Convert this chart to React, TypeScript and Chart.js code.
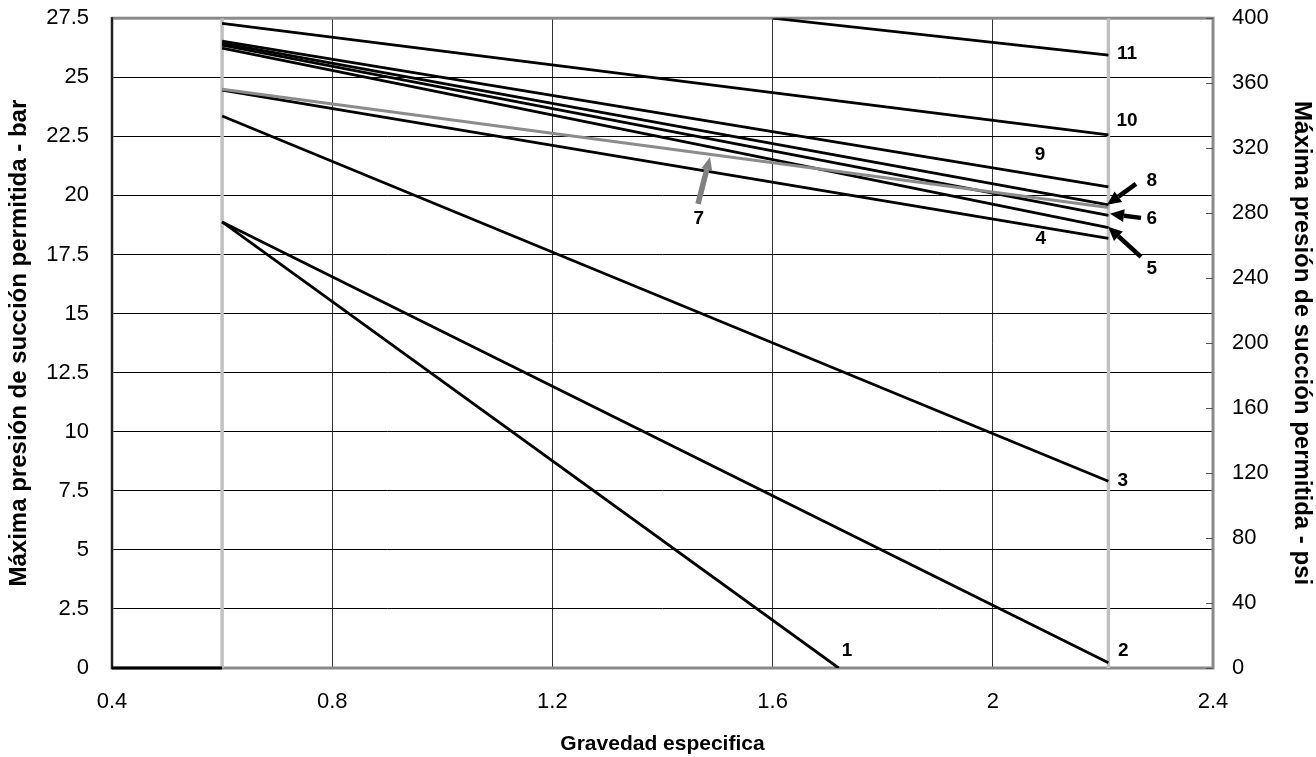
import React, { useEffect, useRef } from 'react';
import { Chart, registerables } from 'chart.js';

Chart.register(...registerables);

// ---- axis ticks ----
const xTickValues = [0.4, 0.8, 1.2, 1.6, 2, 2.4];
const barTickValues = [0, 2.5, 5, 7.5, 10, 12.5, 15, 17.5, 20, 22.5, 25, 27.5];
const psiTickValues = [0, 40, 80, 120, 160, 200, 240, 280, 320, 360, 400];

// ---- reference verticals (gravedad especifica range) ----
const refX = [0.6, 2.21];

// ---- series (x = gravedad especifica, y = bar) ----
const sgBase = [0.4, 0.6];
const barBase = [0, 0];
const sg1 = [0.6, 1.72];
const bar1 = [18.88, 0];
const sg2 = [0.6, 2.21];
const bar2 = [18.88, 0.22];
const sg3 = [0.6, 2.21];
const bar3 = [23.36, 7.9];
const sg4 = [0.6, 2.21];
const bar4 = [24.46, 18.18];
const sg5 = [0.6, 2.21];
const bar5 = [26.23, 18.64];
const sg6 = [0.6, 2.21];
const bar6 = [26.36, 19.16];
const sg7 = [0.6, 2.21];
const bar7 = [24.49, 19.49];
const sg8 = [0.6, 2.21];
const bar8 = [26.44, 19.6];
const sg9 = [0.6, 2.21];
const bar9 = [26.53, 20.36];
const sg10 = [0.6, 2.21];
const bar10 = [27.28, 22.56];
const sg11 = [1.6, 2.21];
const bar11 = [27.5, 25.94];

// ---- curve labels ----
const labelText = ['1', '2', '3', '4', '5', '6', '7', '8', '9', '10', '11'];
const labelX = [1.735, 2.237, 2.236, 2.087, 2.289, 2.289, 1.466, 2.289, 2.086, 2.244, 2.244];
const labelY = [0.72, 0.72, 7.94, 18.16, 16.9, 19.01, 19.0, 20.61, 21.71, 23.15, 25.98];

// ---- arrows (tail -> tip) ----
const arrowFromX = [2.2601, 2.2692, 2.2692, 1.4645];
const arrowFromY = [20.49, 19.05, 17.4, 19.64];
const arrowToX = [2.2075, 2.2129, 2.2093, 1.4863];
const arrowToY = [19.6, 19.22, 18.67, 21.63];
const arrowColor = ['#000000', '#000000', '#000000', '#808080'];

const FONT = '"Liberation Sans", Arial, Helvetica, sans-serif';

const pts = (xs: number[], ys: number[]) => xs.map((x, i) => ({ x, y: ys[i] }));

function drawArrow(ctx: CanvasRenderingContext2D, x1: number, y1: number, x2: number, y2: number, color: string, width: number, headLen: number, headW: number) {
  const ang = Math.atan2(y2 - y1, x2 - x1);
  const bx = x2 - headLen * Math.cos(ang);
  const by = y2 - headLen * Math.sin(ang);
  ctx.save();
  ctx.strokeStyle = color;
  ctx.fillStyle = color;
  ctx.lineWidth = width;
  ctx.lineCap = 'butt';
  ctx.beginPath();
  ctx.moveTo(x1, y1);
  ctx.lineTo(bx, by);
  ctx.stroke();
  ctx.beginPath();
  ctx.moveTo(x2, y2);
  ctx.lineTo(bx + (headW / 2) * Math.sin(ang), by - (headW / 2) * Math.cos(ang));
  ctx.lineTo(bx - (headW / 2) * Math.sin(ang), by + (headW / 2) * Math.cos(ang));
  ctx.closePath();
  ctx.fill();
  ctx.restore();
}

const framePlugin = {
  id: 'frame',
  beforeDatasetsDraw(chart: any) {
    const { ctx, chartArea: a, scales } = chart;
    ctx.save();
    ctx.strokeStyle = '#8a8a8a';
    ctx.lineWidth = 3;
    ctx.strokeRect(a.left, a.top, a.right - a.left, a.bottom - a.top);
    ctx.strokeStyle = '#222222';
    ctx.lineWidth = 2;
    ctx.beginPath();
    ctx.moveTo(a.left, a.top - 1);
    ctx.lineTo(a.left, a.bottom + 1);
    ctx.stroke();
    // inward tick marks on right axis
    const y2 = scales.y2;
    ctx.strokeStyle = '#555555';
    ctx.lineWidth = 1;
    y2.ticks.forEach((t: any) => {
      const py = Math.round(y2.getPixelForValue(t.value)) + 0.5;
      ctx.beginPath();
      ctx.moveTo(a.right - 7, py);
      ctx.lineTo(a.right, py);
      ctx.stroke();
    });
    ctx.restore();
  },
  afterDatasetsDraw(chart: any) {
    const { ctx, scales } = chart;
    const xs = scales.x;
    const ys = scales.y;
    ctx.save();
    for (let i = 0; i < arrowFromX.length; i++) {
      const gray = arrowColor[i] !== '#000000';
      drawArrow(
        ctx,
        xs.getPixelForValue(arrowFromX[i]),
        ys.getPixelForValue(arrowFromY[i]),
        xs.getPixelForValue(arrowToX[i]),
        ys.getPixelForValue(arrowToY[i]),
        arrowColor[i],
        gray ? 5.5 : 4.5,
        gray ? 13 : 14,
        gray ? 11 : 13
      );
    }
    ctx.fillStyle = '#000000';
    ctx.font = `bold 19px ${FONT}`;
    ctx.textAlign = 'center';
    ctx.textBaseline = 'middle';
    for (let i = 0; i < labelText.length; i++) {
      ctx.fillText(labelText[i], xs.getPixelForValue(labelX[i]), ys.getPixelForValue(labelY[i]));
    }
    ctx.restore();
  },
};

const fmt = (v: number) => String(Number(Number(v).toFixed(1)));

export default function App() {
  const ref = useRef<HTMLCanvasElement | null>(null);

  useEffect(() => {
    if (!ref.current) return;
    const black = (xs: number[], ys: number[]) => ({
      data: pts(xs, ys),
      borderColor: '#000000',
      borderWidth: 2.8,
      showLine: true,
      pointRadius: 0,
      order: 2,
    });
    const chart = new Chart(ref.current, {
      type: 'scatter',
      data: {
        datasets: [
          black(sg1, bar1),
          black(sg2, bar2),
          black(sg3, bar3),
          black(sg4, bar4),
          black(sg5, bar5),
          black(sg6, bar6),
          { ...black(sg7, bar7), borderColor: '#8c8c8c', borderWidth: 3, order: 1 },
          black(sg8, bar8),
          black(sg9, bar9),
          black(sg10, bar10),
          black(sg11, bar11),
          { ...black(sgBase, barBase), borderWidth: 3, clip: 4 },
          {
            data: pts([refX[0], refX[0]], [0, 27.5]),
            borderColor: '#c0c0c0',
            borderWidth: 3.5,
            showLine: true,
            pointRadius: 0,
            order: 10,
          },
          {
            data: pts([refX[1], refX[1]], [0, 27.5]),
            borderColor: '#c0c0c0',
            borderWidth: 3.5,
            showLine: true,
            pointRadius: 0,
            order: 10,
          },
        ] as any,
      },
      options: {
        animation: false,
        responsive: true,
        maintainAspectRatio: false,
        layout: { padding: { top: 0, left: 0, right: 0, bottom: 0 } },
        plugins: { legend: { display: false }, tooltip: { enabled: false }, title: { display: false } },
        elements: { line: { tension: 0 } },
        scales: {
          x: {
            type: 'linear',
            min: 0.4,
            max: 2.4,
            afterBuildTicks: (s: any) => {
              s.ticks = xTickValues.map((v) => ({ value: v }));
            },
            afterFit: (s: any) => {
              s.height = 89;
            },
            border: { display: false },
            grid: {
              drawTicks: false,
              color: '#333333',
              lineWidth: 1,
            },
            ticks: {
              padding: 21,
              color: '#000000',
              font: { family: FONT, size: 22 },
              callback: (v: any) => fmt(v),
              maxRotation: 0,
            },
            title: {
              display: true,
              text: 'Gravedad especifica',
              color: '#000000',
              font: { family: FONT, size: 21, weight: 'bold' },
              padding: { top: 0, bottom: 0 },
            },
          },
          y: {
            type: 'linear',
            position: 'left',
            min: 0,
            max: 27.5,
            afterBuildTicks: (s: any) => {
              s.ticks = barTickValues.map((v) => ({ value: v }));
            },
            afterFit: (s: any) => {
              s.width = 112;
            },
            border: { display: false },
            grid: { drawTicks: false, color: '#000000', lineWidth: 1 },
            ticks: {
              padding: 23,
              color: '#000000',
              font: { family: FONT, size: 22 },
              callback: (v: any) => fmt(v),
            },
            title: {
              display: true,
              text: 'Máxima presión de succión permitida - bar',
              color: '#000000',
              font: { family: FONT, size: 24, weight: 'bold' },
              padding: { top: 5, bottom: 0 },
            },
          },
          y2: {
            type: 'linear',
            position: 'right',
            min: 0,
            max: 400,
            afterBuildTicks: (s: any) => {
              s.ticks = psiTickValues.map((v) => ({ value: v }));
            },
            afterFit: (s: any) => {
              s.width = 103;
            },
            border: { display: false },
            grid: { drawOnChartArea: false, drawTicks: false },
            ticks: {
              padding: 19,
              color: '#000000',
              font: { family: FONT, size: 22 },
              callback: (v: any) => fmt(v),
            },
            title: {
              display: true,
              text: 'Máxima presión de succión permitida - psi',
              color: '#000000',
              font: { family: FONT, size: 24, weight: 'bold' },
              padding: { top: 0, bottom: 0 },
            },
          },
        },
      } as any,
      plugins: [framePlugin],
    });
    return () => chart.destroy();
  }, []);

  return (
    <div style={{ position: 'fixed', left: 0, top: 0, width: 1316, height: 757, overflow: 'hidden', background: '#ffffff' }}>
      <div style={{ position: 'absolute', left: 0, top: -18, width: 1316, height: 775 }}>
        <canvas ref={ref} />
      </div>
    </div>
  );
}
